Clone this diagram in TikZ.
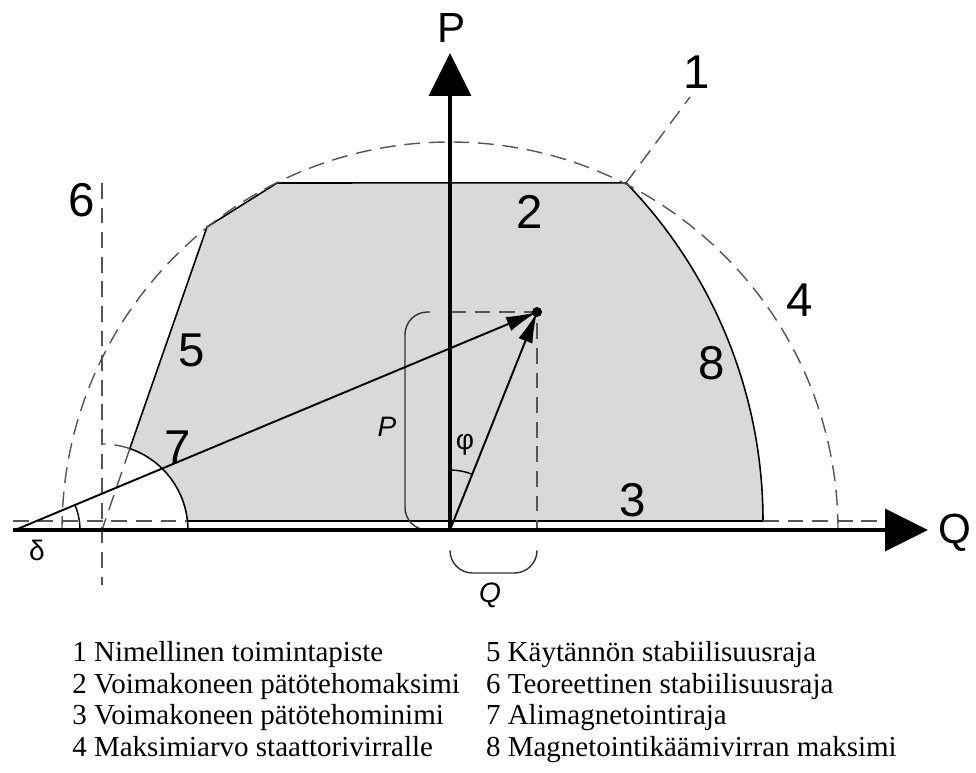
\documentclass[tikz,border=0pt]{standalone}
\usepackage{fontspec}
\setmainfont{Liberation Serif}
\setsansfont{Liberation Sans}
\usepackage{tikz}
\usetikzlibrary{arrows.meta, positioning, calc}
\definecolor{regiongray}{RGB}{217, 217, 217}
\definecolor{limitgray}{RGB}{85, 85, 85}
\tikzset{
    axis/.style={
        line width=2pt,
        -{Triangle[length=0.86cm, width=0.84cm]}
    },
    vector/.style={
        line width=1.1pt,
        -{Latex[length=0.62cm, width=0.3cm]}
    },
    limit/.style={
        line width=0.9pt
    },
    helper/.style={
        draw=limitgray,
        line width=0.8pt,
        dash pattern=on 9pt off 5pt
    },
    bracket/.style={
        draw=black!80,
        line width=0.8pt,
        rounded corners=0.45cm
    },
    num/.style={
        inner sep=0pt,
        font=\sffamily\fontsize{27}{30}\selectfont
    },
    axislabel/.style={
        inner sep=0pt,
        font=\sffamily\fontsize{24}{28}\selectfont
    },
    sym/.style={
        inner sep=0pt,
        font=\sffamily\fontsize{16}{18}\selectfont
    },
    legend/.style={
        inner sep=0pt,
        align=left,
        font=\rmfamily\fontsize{16.5}{18}\selectfont
    }
}

\begin{document}
\begin{tikzpicture}[x=0.02cm, y=0.02cm]
    \useasboundingbox (-450,-242) rectangle (526,530);

    \coordinate (O) at (0,0);
    \coordinate (V) at (-435,0);
    \coordinate (W) at (87,218);
    \coordinate (Pend) at (0,477);
    \coordinate (Qstart) at (-437,0);
    \coordinate (Qend) at (478,0);
    \coordinate (c5) at (-320.2,81.4);
    \coordinate (c1) at (176.1,347.1);
    \coordinate (c6) at (-348,0);

    \filldraw[fill=regiongray, limit] (-262.5,9) -- (313,9)
        arc[start angle=0, end angle=44.1, radius=486] -- (-173,347) -- (-243,303) -- (c5)
        arc[start angle=71.1, end angle=6, radius=86] -- cycle;
    \draw[limit] (-262.5,9) arc[start angle=6, end angle=0, radius=86];

    \draw[helper] (388,0) arc[start angle=0, end angle=180, radius=388];
    \draw[helper] (c5) arc[start angle=71.1, end angle=90, radius=86];
    \draw[helper] (c5) -- (c6);
    \draw[helper] (-348,347) -- (-348,-55);
    \draw[helper] (c1) -- (240,433);
    \draw[helper] (-437,9) -- (-262.5,9);
    \draw[helper] (313,9) -- (435,9);
    \draw[helper] (0,218) -- (W) -- (87,0);

    \draw[bracket] (-20,218) -- (-45,218) -- (-45,0) -- (-20,0);
    \draw[bracket] (0,-22) -- (0,-43) -- (87,-43) -- (87,-22);

    \draw[axis] (Qstart) -- (Qend);
    \draw[axis] (O) -- (Pend);

    \draw[line width=0.8pt] ($(V)+(65,0)$) arc[start angle=0, end angle=22.7, radius=65];
    \draw[line width=0.8pt] (0,60) arc[start angle=90, end angle=68.2, radius=60];

    \draw[vector] (V) -- (W);
    \draw[vector] (O) -- (W);
    \fill (W) circle[radius=5];

    \node[axislabel] (plab) at (2,502) {P};
    \node[axislabel] (qlab) at (505,-3) {Q};
    \node[num] (n1) at (247,458) {1};
    \node[num] (n2) at (80,318) {2};
    \node[num] (n3) at (183,30) {3};
    \node[num] (n4) at (350,230) {4};
    \node[num] (n5) at (-258,180) {5};
    \node[num] (n6) at (-368,330) {6};
    \node[num] (n7) at (-272,83) {7};
    \node[num] (n8) at (262,167) {8};
    \node[sym] (delta) at (-413,-20) {δ};
    \node[sym] (phi) at (15,85) {φ};
    \node[sym, font=\sffamily\itshape\fontsize{16}{18}\selectfont] (pbr) at (-63,103) {P};
    \node[sym, font=\sffamily\itshape\fontsize{16}{18}\selectfont] (qbr) at (40,-65) {Q};

    \node[legend] (key) at (34.5,-172.5) {%
        \begin{tabular}{@{}l@{\hspace{0.9em}}l@{}}
        1 Nimellinen toimintapiste & 5 Käytännön stabiilisuusraja\\
        2 Voimakoneen pätötehomaksimi & 6 Teoreettinen stabiilisuusraja\\
        3 Voimakoneen pätötehominimi & 7 Alimagnetointiraja\\
        4 Maksimiarvo staattorivirralle & 8 Magnetointikäämivirran maksimi
        \end{tabular}};
\end{tikzpicture}
\end{document}
